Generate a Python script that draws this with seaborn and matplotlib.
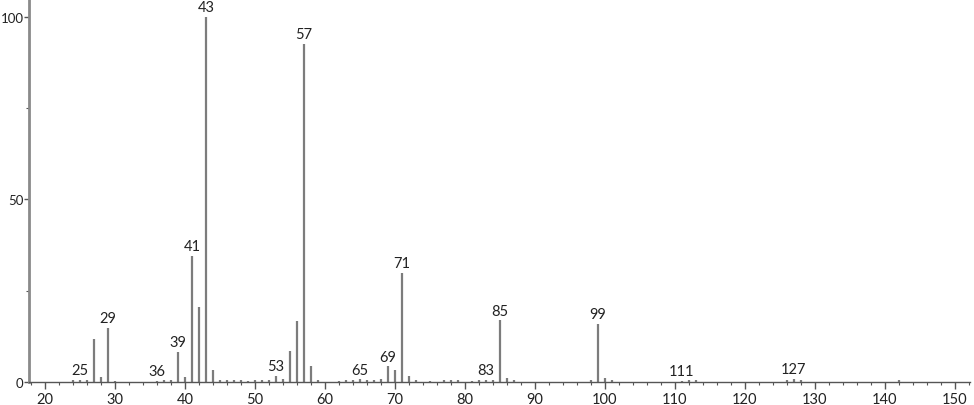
import numpy as np
import pandas as pd
import seaborn as sb
import matplotlib.pyplot as plt
from matplotlib.ticker import MultipleLocator

# m/z and relative intensity
mz = [24, 25, 26, 27, 28, 29, 30, 36, 37, 38, 39, 40, 41, 42, 43, 44, 45, 46,
      47, 48, 49, 50, 51, 52, 53, 54, 55, 56, 57, 58, 59, 62, 63, 64, 65, 66,
      67, 68, 69, 70, 71, 72, 73, 75, 77, 78, 79, 81, 82, 83, 84, 85, 86, 87,
      98, 99, 100, 101, 111, 112, 113, 126, 127, 128, 142]
intensity = [0.5, 0.6, 0.6, 11.8, 1.3, 14.8, 0.4, 0.4, 0.6, 0.6, 8.2, 1.5,
             34.6, 20.5, 100.0, 3.2, 0.6, 0.6, 0.5, 0.5, 0.4, 0.6, 0.5, 0.6,
             1.6, 0.8, 8.6, 16.8, 92.6, 4.4, 0.5, 0.4, 0.6, 0.5, 0.7, 0.6,
             0.6, 0.7, 4.3, 3.2, 29.8, 1.6, 0.5, 0.4, 0.5, 0.5, 0.5, 0.4,
             0.5, 0.6, 0.5, 16.9, 1.2, 0.5, 0.6, 16.0, 1.1, 0.5, 0.3, 0.5,
             0.5, 0.5, 0.8, 0.5, 0.5]
labelled = [25, 29, 36, 39, 41, 43, 53, 57, 65, 69, 71, 83, 85, 99, 111, 127]

spec = pd.DataFrame({'mz': mz, 'intensity': intensity})

sb.set_style('ticks')
plt.rcParams['font.family'] = ['Lato', 'DejaVu Sans']

fig = plt.figure(figsize=(9.74, 4.06), dpi=100)
ax = fig.add_axes([0.0298, 0.0567, 0.966, 0.9433])

ax.vlines(spec['mz'], 0, spec['intensity'], color='#7c7c7c', linewidth=1.6)

for m in labelled:
    h = spec.loc[spec['mz'] == m, 'intensity'].iloc[0]
    ax.annotate(str(m), (m, h), xytext=(0, 2), textcoords='offset points',
                ha='center', va='bottom', fontsize=10.5, color='#222222')

ax.set_xlim(17.72, 152.2)
ax.set_ylim(0, 104.9)
ax.xaxis.set_major_locator(MultipleLocator(10))
ax.xaxis.set_minor_locator(MultipleLocator(2))
ax.yaxis.set_major_locator(MultipleLocator(50))
ax.yaxis.set_minor_locator(MultipleLocator(25))

sb.despine(ax=ax)
ax.spines['left'].set_color('#8a8a8a')
ax.spines['left'].set_linewidth(2)
ax.spines['bottom'].set_color('#555555')
ax.spines['bottom'].set_linewidth(1)

ax.tick_params(axis='x', which='major', length=5, width=1, color='#555555',
               labelsize=10.5, labelcolor='#222222', pad=2)
ax.tick_params(axis='x', which='minor', length=2.5, width=0.8, color='#555555')
ax.tick_params(axis='y', which='major', length=3.5, width=1, color='#555555',
               labelsize=9.5, labelcolor='#222222', pad=0.5)
ax.tick_params(axis='y', which='minor', length=2.5, width=0.8, color='#555555')
ax.patch.set_alpha(0)

fig.savefig('out.png', dpi=100)
